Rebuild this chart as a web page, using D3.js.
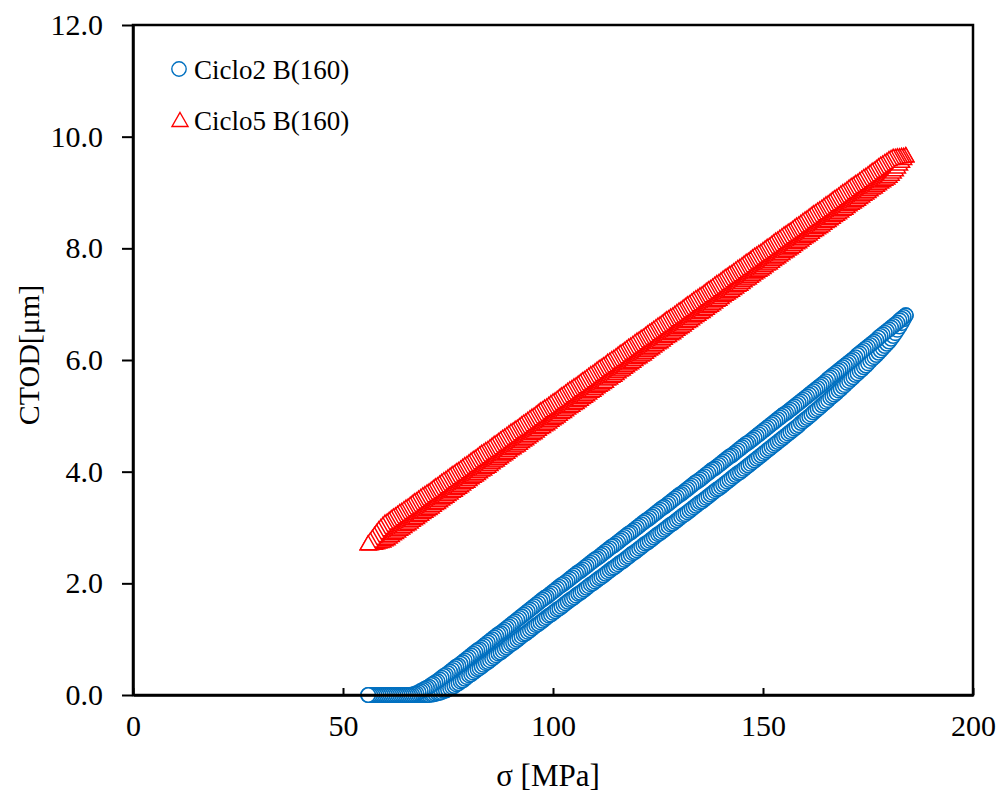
<!DOCTYPE html>
<html><head><meta charset="utf-8">
<script src="https://cdn.jsdelivr.net/npm/d3@7"></script>
<style>body{margin:0;background:#fff}svg{display:block}</style>
</head><body><svg id="c" width="1002" height="794"></svg>
<script>
// stress values (MPa), shared by all paths
const sigma = [56,56.5,57,57.5,58,58.5,59,59.5,60,60.5,61,61.5,62,62.5,63,63.5,64,64.5,65,65.5,66,66.5,67,67.5,68,68.5,69,69.5,70,70.5,71,71.5,72,72.5,73,73.5,74,74.5,75,75.5,76,76.5,77,77.5,78,78.5,79,79.5,80,80.5,81,81.5,82,82.5,83,83.5,84,84.5,85,85.5,86,86.5,87,87.5,88,88.5,89,89.5,90,90.5,91,91.5,92,92.5,93,93.5,94,94.5,95,95.5,96,96.5,97,97.5,98,98.5,99,99.5,100,100.5,101,101.5,102,102.5,103,103.5,104,104.5,105,105.5,106,106.5,107,107.5,108,108.5,109,109.5,110,110.5,111,111.5,112,112.5,113,113.5,114,114.5,115,115.5,116,116.5,117,117.5,118,118.5,119,119.5,120,120.5,121,121.5,122,122.5,123,123.5,124,124.5,125,125.5,126,126.5,127,127.5,128,128.5,129,129.5,130,130.5,131,131.5,132,132.5,133,133.5,134,134.5,135,135.5,136,136.5,137,137.5,138,138.5,139,139.5,140,140.5,141,141.5,142,142.5,143,143.5,144,144.5,145,145.5,146,146.5,147,147.5,148,148.5,149,149.5,150,150.5,151,151.5,152,152.5,153,153.5,154,154.5,155,155.5,156,156.5,157,157.5,158,158.5,159,159.5,160,160.5,161,161.5,162,162.5,163,163.5,164,164.5,165,165.5,166,166.5,167,167.5,168,168.5,169,169.5,170,170.5,171,171.5,172,172.5,173,173.5,174,174.5,175,175.5,176,176.5,177,177.5,178,178.5,179,179.5,180,180.5,181,181.5,182,182.5,183,183.5,184];
// Ciclo2 B(160): loading branch (CTOD, µm)
const c2Load = [0,0,0,0,0,0,0,0,0,0,0,0,0,0,0,0,0,0,0,0,0,0,0,0,0,0,0,0,0,0.00,0.01,0.01,0.02,0.03,0.04,0.05,0.07,0.08,0.10,0.12,0.14,0.16,0.19,0.21,0.24,0.26,0.29,0.32,0.35,0.37,0.40,0.43,0.46,0.48,0.51,0.54,0.57,0.59,0.62,0.65,0.68,0.71,0.74,0.76,0.79,0.82,0.85,0.88,0.91,0.93,0.96,0.99,1.02,1.05,1.08,1.10,1.13,1.16,1.19,1.22,1.25,1.27,1.30,1.33,1.36,1.39,1.42,1.44,1.47,1.50,1.53,1.55,1.58,1.61,1.64,1.67,1.70,1.72,1.75,1.78,1.81,1.83,1.86,1.89,1.92,1.95,1.98,2.00,2.03,2.06,2.09,2.11,2.14,2.17,2.20,2.23,2.26,2.28,2.31,2.34,2.37,2.39,2.42,2.45,2.48,2.51,2.54,2.56,2.59,2.62,2.65,2.68,2.71,2.73,2.76,2.79,2.82,2.85,2.88,2.90,2.93,2.96,2.99,3.02,3.05,3.07,3.10,3.13,3.16,3.19,3.22,3.24,3.27,3.30,3.33,3.36,3.39,3.42,3.45,3.47,3.50,3.53,3.56,3.59,3.62,3.65,3.68,3.70,3.73,3.76,3.79,3.82,3.85,3.88,3.91,3.94,3.97,3.99,4.02,4.05,4.08,4.11,4.14,4.17,4.20,4.23,4.26,4.29,4.32,4.35,4.38,4.41,4.44,4.47,4.50,4.53,4.56,4.59,4.62,4.65,4.68,4.71,4.74,4.77,4.80,4.83,4.87,4.90,4.93,4.96,4.99,5.02,5.06,5.09,5.12,5.15,5.19,5.22,5.25,5.28,5.32,5.35,5.38,5.41,5.45,5.48,5.52,5.55,5.59,5.62,5.66,5.69,5.73,5.76,5.80,5.83,5.87,5.90,5.94,5.98,6.02,6.05,6.09,6.13,6.17,6.21,6.25,6.29,6.33,6.38,6.43,6.48,6.54,6.60,6.66,6.73,6.80];
// Ciclo2 B(160): unloading branch (listed by ascending sigma)
const c2Unload = [0,0,0,0,0,0,0,0,0,0,0,0,0,0,0,0,0,0,0,0,0,0.01,0.02,0.03,0.05,0.07,0.09,0.11,0.13,0.15,0.18,0.20,0.23,0.25,0.28,0.31,0.34,0.36,0.39,0.42,0.45,0.48,0.51,0.53,0.56,0.59,0.62,0.65,0.68,0.71,0.74,0.77,0.80,0.82,0.85,0.88,0.91,0.94,0.97,1.00,1.03,1.06,1.09,1.11,1.14,1.17,1.20,1.23,1.26,1.29,1.32,1.35,1.38,1.41,1.44,1.47,1.50,1.53,1.56,1.59,1.62,1.65,1.68,1.71,1.74,1.76,1.79,1.82,1.85,1.88,1.91,1.94,1.97,1.99,2.02,2.05,2.08,2.11,2.14,2.17,2.20,2.22,2.25,2.28,2.31,2.34,2.37,2.40,2.43,2.45,2.48,2.51,2.54,2.57,2.60,2.63,2.66,2.68,2.71,2.74,2.77,2.80,2.83,2.86,2.89,2.91,2.94,2.97,3.00,3.03,3.06,3.09,3.12,3.14,3.17,3.20,3.23,3.26,3.29,3.32,3.35,3.37,3.40,3.43,3.46,3.49,3.52,3.55,3.58,3.60,3.63,3.66,3.69,3.72,3.75,3.78,3.81,3.83,3.86,3.89,3.92,3.95,3.98,4.01,4.04,4.06,4.09,4.12,4.15,4.18,4.21,4.24,4.27,4.29,4.32,4.35,4.38,4.41,4.44,4.47,4.50,4.52,4.55,4.58,4.61,4.64,4.67,4.70,4.73,4.76,4.79,4.82,4.85,4.88,4.91,4.94,4.97,5.00,5.03,5.05,5.08,5.11,5.14,5.17,5.20,5.23,5.26,5.29,5.32,5.35,5.38,5.41,5.44,5.47,5.50,5.53,5.56,5.59,5.62,5.66,5.69,5.72,5.75,5.78,5.81,5.84,5.87,5.90,5.93,5.96,5.99,6.02,6.05,6.09,6.12,6.15,6.18,6.21,6.24,6.27,6.30,6.33,6.36,6.40,6.43,6.46,6.49,6.52,6.55,6.58,6.61,6.64,6.67,6.71,6.74,6.77,6.80];
// Ciclo5 B(160): loading branch
const c5Load = [2.70,2.70,2.71,2.71,2.72,2.73,2.74,2.75,2.77,2.79,2.82,2.85,2.88,2.90,2.93,2.96,2.98,3.01,3.04,3.06,3.09,3.12,3.15,3.17,3.20,3.23,3.26,3.28,3.31,3.33,3.36,3.39,3.42,3.44,3.47,3.50,3.53,3.55,3.58,3.61,3.64,3.66,3.69,3.71,3.74,3.77,3.80,3.82,3.85,3.88,3.91,3.93,3.96,3.99,4.02,4.04,4.07,4.09,4.12,4.15,4.18,4.20,4.23,4.26,4.29,4.31,4.34,4.37,4.40,4.42,4.45,4.47,4.50,4.53,4.56,4.58,4.61,4.64,4.67,4.69,4.72,4.75,4.78,4.80,4.83,4.85,4.88,4.91,4.94,4.96,4.99,5.02,5.05,5.07,5.10,5.13,5.16,5.18,5.21,5.23,5.26,5.29,5.32,5.34,5.37,5.40,5.43,5.45,5.48,5.51,5.54,5.56,5.59,5.61,5.65,5.67,5.70,5.72,5.75,5.78,5.81,5.83,5.86,5.89,5.92,5.94,5.97,6.00,6.03,6.05,6.08,6.10,6.13,6.16,6.19,6.21,6.24,6.27,6.30,6.32,6.35,6.38,6.41,6.43,6.46,6.48,6.51,6.54,6.57,6.59,6.62,6.65,6.68,6.70,6.73,6.76,6.79,6.81,6.84,6.86,6.89,6.92,6.95,6.97,7.00,7.03,7.06,7.08,7.11,7.14,7.17,7.19,7.22,7.24,7.27,7.30,7.33,7.35,7.38,7.41,7.44,7.46,7.49,7.52,7.55,7.57,7.60,7.62,7.65,7.68,7.71,7.73,7.76,7.79,7.82,7.84,7.87,7.90,7.93,7.95,7.98,8.00,8.03,8.06,8.09,8.11,8.14,8.17,8.20,8.22,8.25,8.28,8.31,8.33,8.36,8.38,8.41,8.44,8.47,8.49,8.52,8.55,8.58,8.60,8.63,8.66,8.69,8.71,8.74,8.77,8.80,8.82,8.85,8.87,8.90,8.93,8.96,8.98,9.01,9.04,9.07,9.09,9.12,9.15,9.18,9.20,9.23,9.25,9.28,9.32,9.36,9.40,9.45,9.50,9.55,9.60,9.65];
// Ciclo5 B(160): unloading branch (listed by ascending sigma)
const c5Unload = [2.70,2.75,2.80,2.85,2.90,2.95,2.99,3.03,3.07,3.09,3.12,3.15,3.18,3.20,3.23,3.26,3.28,3.31,3.34,3.36,3.39,3.42,3.45,3.47,3.50,3.53,3.56,3.58,3.61,3.63,3.66,3.69,3.72,3.74,3.77,3.80,3.83,3.85,3.88,3.91,3.94,3.96,3.99,4.01,4.04,4.07,4.10,4.12,4.15,4.18,4.21,4.23,4.26,4.29,4.32,4.34,4.37,4.39,4.42,4.45,4.48,4.50,4.53,4.56,4.59,4.61,4.64,4.67,4.70,4.72,4.75,4.77,4.80,4.83,4.86,4.88,4.91,4.94,4.97,4.99,5.02,5.05,5.08,5.10,5.13,5.15,5.18,5.21,5.24,5.26,5.29,5.32,5.35,5.37,5.40,5.43,5.46,5.48,5.51,5.53,5.56,5.59,5.62,5.64,5.67,5.70,5.73,5.75,5.78,5.81,5.84,5.86,5.89,5.91,5.95,5.97,6.00,6.02,6.05,6.08,6.11,6.13,6.16,6.19,6.22,6.24,6.27,6.30,6.33,6.35,6.38,6.40,6.43,6.46,6.49,6.51,6.54,6.57,6.60,6.62,6.65,6.68,6.71,6.73,6.76,6.78,6.81,6.84,6.87,6.89,6.92,6.95,6.98,7.00,7.03,7.06,7.09,7.11,7.14,7.16,7.19,7.22,7.25,7.27,7.30,7.33,7.36,7.38,7.41,7.44,7.47,7.49,7.52,7.54,7.57,7.60,7.63,7.65,7.68,7.71,7.74,7.76,7.79,7.82,7.85,7.87,7.90,7.92,7.95,7.98,8.01,8.03,8.06,8.09,8.12,8.14,8.17,8.20,8.23,8.25,8.28,8.30,8.33,8.36,8.39,8.41,8.44,8.47,8.50,8.52,8.55,8.58,8.61,8.63,8.66,8.68,8.71,8.74,8.77,8.79,8.82,8.85,8.88,8.90,8.93,8.96,8.99,9.01,9.04,9.07,9.10,9.12,9.15,9.17,9.20,9.23,9.26,9.28,9.31,9.34,9.37,9.39,9.42,9.45,9.48,9.50,9.53,9.55,9.58,9.60,9.62,9.62,9.63,9.63,9.64,9.64,9.65];
const xTicks = [0,50,100,150,200];
const yTicks = [0,2,4,6,8,10,12];
const seriesNames = ["Ciclo2 B(160)","Ciclo5 B(160)"];
const colors = ["#0070C0","#FF0000"];

const svg = d3.select("#c");
const L = 133, R = 973, T = 25, B = 695;
const x = d3.scaleLinear().domain([0,200]).range([L,R]);
const y = d3.scaleLinear().domain([0,12]).range([B,T]);
const serif = "'Liberation Serif','Times New Roman',serif";

// ordered point lists: loading ascending, then unloading descending
function cycle(load, unload){
  const pts = sigma.map((s,i)=>[s,load[i]]);
  for(let i=sigma.length-1;i>=0;i--) pts.push([sigma[i],unload[i]]);
  return pts;
}
const circlePts = cycle(c2Load,c2Unload);
const triPts = cycle(c5Load,c5Unload);

const triPath = "M0,-8.5L8,5.5L-8,5.5Z";

svg.append("g").selectAll("circle").data(circlePts).join("circle")
  .attr("cx",d=>x(d[0])).attr("cy",d=>y(d[1])).attr("r",7.2)
  .attr("fill","#fff").attr("stroke",colors[0]).attr("stroke-width",1.6);

svg.append("g").selectAll("path").data(triPts).join("path")
  .attr("d",triPath).attr("transform",d=>`translate(${x(d[0])},${y(d[1])})`)
  .attr("fill","#fff").attr("stroke",colors[1]).attr("stroke-width",1.5);

// frame
svg.append("rect").attr("x",L).attr("y",T).attr("width",R-L).attr("height",B-T)
  .attr("fill","none").attr("stroke","#000").attr("stroke-width",2.5);

// axes
const xAxis = svg.append("g").attr("transform",`translate(0,${B})`)
  .call(d3.axisBottom(x).tickValues(xTicks).tickSizeInner(-7).tickSizeOuter(0).tickPadding(20).tickFormat(d3.format("d")));
const yAxis = svg.append("g").attr("transform",`translate(${L},0)`)
  .call(d3.axisLeft(y).tickValues(yTicks).tickSizeInner(11).tickSizeOuter(0).tickPadding(19).tickFormat(d3.format(".1f")));
[xAxis,yAxis].forEach(a=>{
  a.select(".domain").attr("stroke","#000").attr("stroke-width",2.5);
  a.selectAll(".tick line").attr("stroke","#000").attr("stroke-width",2);
  a.selectAll("text").attr("font-family",serif).attr("font-size",30).attr("fill","#000");
});

// axis titles
svg.append("text").attr("x",548).attr("y",786).attr("text-anchor","middle")
  .attr("font-family",serif).attr("font-size",31).text("σ [MPa]");
svg.append("text").attr("transform","translate(39,355) rotate(-90)").attr("text-anchor","middle")
  .attr("font-family",serif).attr("font-size",30).text("CTOD[μm]");

// legend
const lg = svg.append("g");
lg.append("circle").attr("cx",179).attr("cy",69).attr("r",7.2)
  .attr("fill","#fff").attr("stroke",colors[0]).attr("stroke-width",1.4);
lg.append("path").attr("d",triPath).attr("transform","translate(180,121)")
  .attr("fill","#fff").attr("stroke",colors[1]).attr("stroke-width",1.4);
lg.selectAll("text").data(seriesNames).join("text")
  .attr("x",194).attr("y",(d,i)=>79+i*51)
  .attr("font-family",serif).attr("font-size",27).attr("fill","#000").text(d=>d);
</script></body></html>
